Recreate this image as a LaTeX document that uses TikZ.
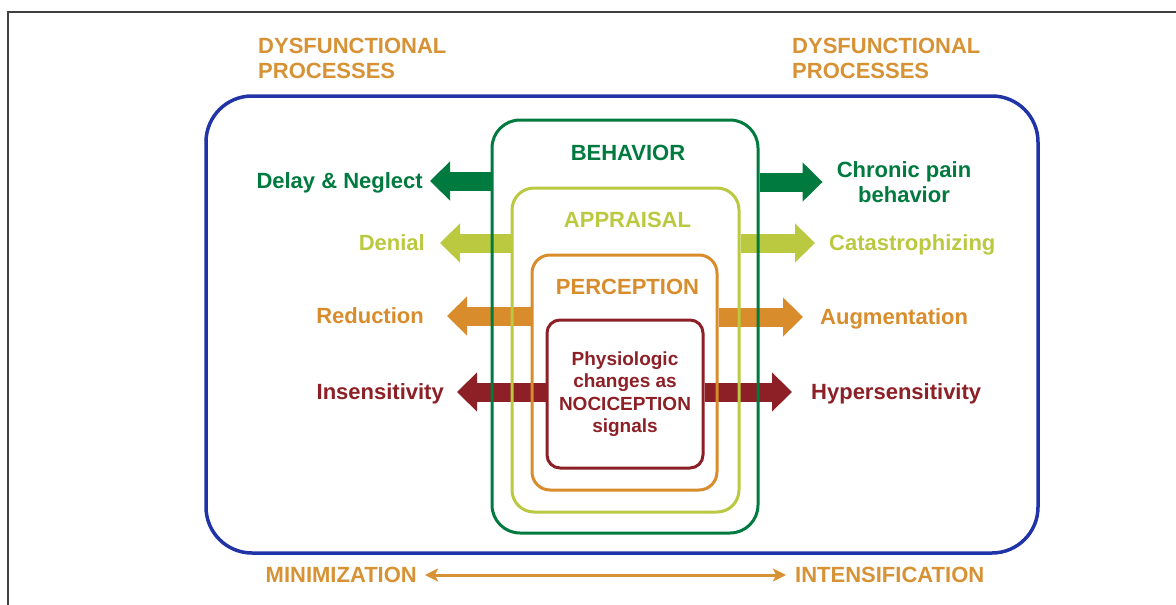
\documentclass[tikz,border=0pt]{standalone}
\usepackage{fontspec}
\setmainfont{Liberation Sans}
\usetikzlibrary{arrows.meta}
\usetikzlibrary{backgrounds}
\usetikzlibrary{positioning}
\usepackage{xcolor}
\definecolor{dysorange}{RGB}{214,146,52}
\definecolor{procblue}{RGB}{32,52,168}
\definecolor{behgreen}{RGB}{0,122,62}
\definecolor{appyellow}{RGB}{186,201,64}
\definecolor{perorange}{RGB}{216,140,44}
\definecolor{nocred}{RGB}{140,32,38}
\tikzset{
  layer/.style={draw, rounded corners=#1, line width=3pt, inner sep=0pt},
  heading/.style={font=\bfseries\fontsize{22}{25}\selectfont, text height=15.75pt, text depth=0pt, inner sep=0pt},
  outcome/.style={heading},
  fatarrow/.style={line width=19pt, -{Triangle[length=20pt,width=38pt]}},
}

\begin{document}
\begin{tikzpicture}[x=1pt, y=-1pt]
\useasboundingbox (0,0) rectangle (1176,605);
\draw[black!75, line width=1.5pt] (8,605) -- (8,12) -- (1176,12);

% nested boxes
\node[layer=46, draw=procblue, line width=3.5pt, minimum width=832pt, minimum height=457pt] (proc) at (622,324.5) {};
\node[layer=28, draw=behgreen, minimum width=266pt, minimum height=413pt] (beh) at (625,326.5) {};
\node[layer=22, draw=appyellow, minimum width=227pt, minimum height=324pt] (app) at (625.5,350) {};
\node[layer=18, draw=perorange, minimum width=185pt, minimum height=235pt] (per) at (624.5,372.5) {};
\node[layer=13, draw=nocred, minimum width=156pt, minimum height=148pt, align=center, text=nocred,
      font=\bfseries\fontsize{19}{22.5}\selectfont] (noc) at (625,394) {Physiologic\\changes as\\NOCICEPTION\\signals};

\node[heading, text=behgreen] (behT) at ([xshift=3pt, yshift=-34pt]beh.north) {BEHAVIOR};
\node[heading, text=appyellow] (appT) at ([xshift=2pt, yshift=-33pt]app.north) {APPRAISAL};
\node[heading, text=perorange] (perT) at ([xshift=3pt, yshift=-33pt]per.north) {PERCEPTION};

\node[heading, text=dysorange, align=left, anchor=north west, text height=, text depth=] (dysL) at (258,38) {DYSFUNCTIONAL\\PROCESSES};
\node[heading, text=dysorange, align=left, anchor=north west, text height=, text depth=] (dysR) at (792,38) {DYSFUNCTIONAL\\PROCESSES};

% outcomes, left and right
\node[outcome, text=behgreen, anchor=east] (delay) at (423,181) {Delay \& Neglect};
\node[outcome, text=appyellow, anchor=east] (denial) at (425,243) {Denial};
\node[outcome, text=perorange, anchor=east] (reduc) at (424,316) {Reduction};
\node[outcome, text=nocred, anchor=east] (insens) at (444,392) {Insensitivity};
\node[outcome, text=behgreen, align=center, text height=, text depth=] (chronic) at (904,182) {Chronic pain\\behavior};
\node[outcome, text=appyellow, anchor=west] (catas) at (829,243) {Catastrophizing};
\node[outcome, text=perorange, anchor=west] (augm) at (820,317) {Augmentation};
\node[outcome, text=nocred, anchor=west] (hypers) at (811,392) {Hypersensitivity};

\begin{scope}[on background layer]
\draw[fatarrow, behgreen] (beh.west |- delay) -- ([xshift=7pt]delay.east);
\draw[fatarrow, appyellow] (app.west |- denial) -- ([xshift=15pt]denial.east);
\draw[fatarrow, perorange] (per.west |- reduc) -- ([xshift=23pt]reduc.east);
\draw[fatarrow, nocred] (noc.west |- insens) -- ([xshift=13pt]insens.east);
\draw[fatarrow, behgreen] (beh.east |- chronic) -- ([xshift=-14pt]chronic.west);
\draw[fatarrow, appyellow] (app.east |- catas) -- ([xshift=-14pt]catas.west);
\draw[fatarrow, perorange] (per.east |- augm) -- ([xshift=-17pt]augm.west);
\draw[fatarrow, nocred] (noc.east |- hypers) -- ([xshift=-19pt]hypers.west);
\end{scope}

% continuum
\node[heading, text=dysorange, anchor=east] (minim) at (417,575) {MINIMIZATION};
\node[heading, text=dysorange, anchor=west] (intens) at (795,575) {INTENSIFICATION};
\draw[dysorange, line width=3pt, {Stealth[length=13pt,width=13pt,inset=3pt]}-{Stealth[length=13pt,width=13pt,inset=3pt]}]
  ([xshift=8pt]minim.east) -- ([xshift=-9pt]intens.west);
\end{tikzpicture}
\end{document}
